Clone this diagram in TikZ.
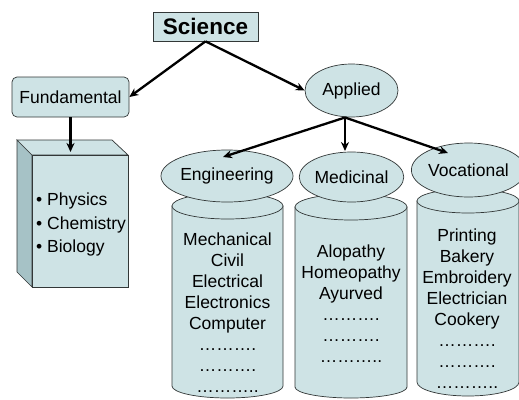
\documentclass[tikz,border=0pt]{standalone}
\usepackage{fontspec}
\setmainfont{Liberation Sans}
\usetikzlibrary{shapes.geometric,arrows.meta}
\definecolor{pale}{RGB}{206,227,229}
\definecolor{paledark}{RGB}{166,194,198}
\definecolor{edge}{RGB}{50,55,55}
\tikzset{
  shapefill/.style={fill=pale,draw=edge,line width=0.7pt},
  lbl/.style={font=\fontsize{17.5}{21}\selectfont,inner sep=0pt},
  oval/.style={ellipse,shapefill,lbl},
  conn/.style={line width=2.3pt,-{Stealth[length=9pt,width=8pt]}},
}
\begin{document}
\begin{tikzpicture}[x=1pt,y=-1pt]
\useasboundingbox[fill=white] (0,0) rectangle (519,399);

% 3D box
\filldraw[shapefill,fill=paledark] (17,140) -- (32,155) -- (32,287) -- (17,272) -- cycle;
\filldraw[shapefill] (17,140) -- (112,140) -- (128,155) -- (32,155) -- cycle;
\filldraw[shapefill] (32,155) rectangle (128,287);
\coordinate (boxtop) at (70.5,152);
\node[lbl,font=\fontsize{17.5}{23.5}\selectfont,anchor=north west,align=left] (bul) at (36,193)
  {• Physics\\• Chemistry\\• Biology};

% cylinders
\filldraw[shapefill] (172,206) -- (172,386) arc[start angle=180,end angle=0,x radius=55.5,y radius=12] -- (283,206) -- cycle;
\filldraw[shapefill] (227.5,206) ellipse [x radius=55.5,y radius=13];
\filldraw[shapefill] (295,207) -- (295,387) arc[start angle=180,end angle=0,x radius=56,y radius=11] -- (407,207) -- cycle;
\filldraw[shapefill] (351,207) ellipse [x radius=56,y radius=13];
\filldraw[shapefill] (417,201) -- (417,382) arc[start angle=180,end angle=0,x radius=51,y radius=14] -- (519,201) -- cycle;
\filldraw[shapefill] (468,201) ellipse [x radius=51,y radius=12];

\node[lbl,anchor=north,align=center] (engtxt) at (227.5,233)
  {Mechanical\\Civil\\Electrical\\Electronics\\Computer\\……….\\……….\\………..};
\node[lbl,anchor=north,align=center] (medtxt) at (351,245)
  {Alopathy\\Homeopathy\\Ayurved\\……….\\……….\\………..};
\node[lbl,anchor=north,align=center] (voctxt) at (467,229)
  {Printing\\Bakery\\Embroidery\\Electrician\\Cookery\\……….\\……….\\………..};

% top nodes
\node[shapefill,font=\fontsize{22.5}{26}\selectfont\bfseries,minimum width=105pt,minimum height=29pt,inner sep=0pt] (sci) at (205.5,26.5) {Science};
\node[shapefill,lbl,rounded corners=5pt,minimum width=117pt,minimum height=40pt] (fund) at (70.5,97) {Fundamental};
\node[oval,minimum width=93pt,minimum height=53pt] (app) at (351.5,90.5) {Applied};
\node[oval,minimum width=110pt,minimum height=52pt] (eng) at (227,176) {Engineering};
\node[oval,minimum width=93pt,minimum height=50pt] (med) at (351.5,177) {Medicinal};
\node[oval,minimum width=103pt,minimum height=54pt] (voc) at (468.5,170) {Vocational};

\coordinate (engtip) at (223,157);
\coordinate (medtip) at (345,151);
\coordinate (voctip) at (448,153);
\coordinate (apptail) at (345,117.5);

% connectors
\draw[conn] (sci.south) -- (fund.east);
\draw[conn] (sci.south) -- (app.west);
\draw[conn] (fund.south) -- (boxtop);
\draw[conn] (apptail) -- (engtip);
\draw[conn] (apptail) -- (medtip);
\draw[conn] (apptail) -- (voctip);
\end{tikzpicture}
\end{document}
